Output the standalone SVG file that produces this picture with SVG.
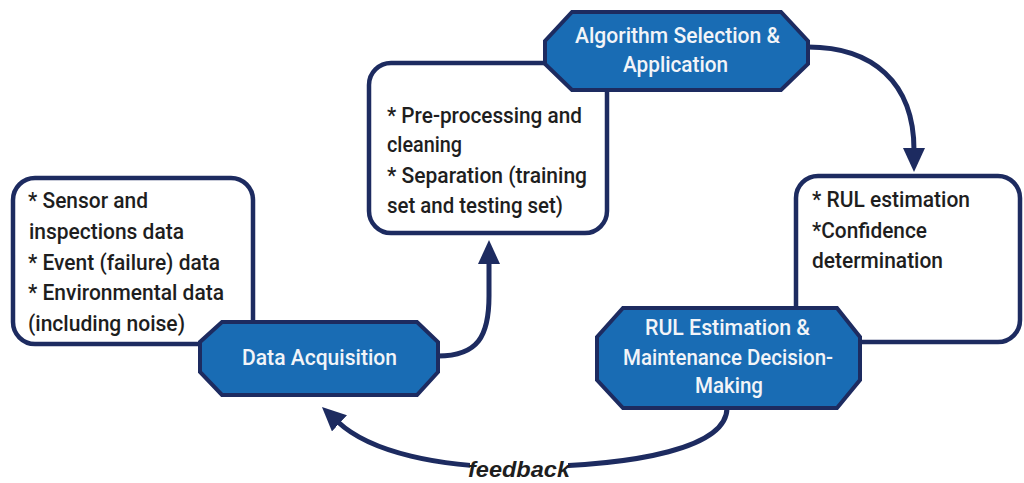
<svg xmlns="http://www.w3.org/2000/svg" width="1024" height="483" viewBox="0 0 1024 483">
  <defs>
    <marker id="arrow" viewBox="0 0 24 22" refX="2" refY="11" markerWidth="24" markerHeight="22" markerUnits="userSpaceOnUse" orient="auto">
      <path d="M0,0 L24,11 L0,22 Z" fill="#1d2b60"/>
    </marker>
    <style>
      .box { fill: #ffffff; stroke: #1d2b60; stroke-width: 4.5; }
      .hex { fill: #196cb4; stroke: #1d2b60; stroke-width: 4; stroke-linejoin: miter; }
      .link { fill: none; stroke: #1d2b60; stroke-width: 5; }
      .note { font-family: Roboto, "Liberation Sans", sans-serif; font-weight: 500; font-size: 22px; fill: #1e1e1e; }
      .title { font-family: Roboto, "Liberation Sans", sans-serif; font-weight: 500; font-size: 22px; fill: #f2f4f8; }
      .label { font-family: "Liberation Sans", Arial, sans-serif; font-weight: bold; font-style: italic; font-size: 22px; fill: #1e1e1e; }
    </style>
  </defs>

  <!-- detail boxes (drawn first so the stage shapes overlap their corners) -->
  <g id="acquisition-notes">
    <rect class="box" x="13" y="178" width="240" height="166" rx="22"/>
    <text class="note" x="28" y="208" textLength="120" lengthAdjust="spacingAndGlyphs">* Sensor and</text>
    <text class="note" x="29" y="239" textLength="155" lengthAdjust="spacingAndGlyphs">inspections data</text>
    <text class="note" x="28" y="270" textLength="192" lengthAdjust="spacingAndGlyphs">* Event (failure) data</text>
    <text class="note" x="28" y="300" textLength="196" lengthAdjust="spacingAndGlyphs">* Environmental data</text>
    <text class="note" x="28" y="331" textLength="157" lengthAdjust="spacingAndGlyphs">(including noise)</text>
  </g>

  <g id="preprocessing-notes">
    <rect class="box" x="369" y="63" width="238" height="170" rx="22"/>
    <text class="note" x="387" y="123" textLength="195" lengthAdjust="spacingAndGlyphs">* Pre-processing and</text>
    <text class="note" x="387" y="152" textLength="75" lengthAdjust="spacingAndGlyphs">cleaning</text>
    <text class="note" x="387" y="183" textLength="200" lengthAdjust="spacingAndGlyphs">* Separation (training</text>
    <text class="note" x="387" y="213" textLength="176" lengthAdjust="spacingAndGlyphs">set and testing set)</text>
  </g>

  <g id="estimation-notes">
    <rect class="box" x="796" y="176" width="224" height="166" rx="22"/>
    <text class="note" x="812" y="207" textLength="158" lengthAdjust="spacingAndGlyphs">* RUL estimation</text>
    <text class="note" x="812" y="238" textLength="115" lengthAdjust="spacingAndGlyphs">*Confidence</text>
    <text class="note" x="812" y="268" textLength="131" lengthAdjust="spacingAndGlyphs">determination</text>
  </g>

  <!-- connectors between stages -->
  <g id="connectors">
    <path class="link" d="M438,356 C478,356 489,336 489,296 L489,262" marker-end="url(#arrow)"/>
    <path class="link" d="M808,47 C872,47 914,82 914,150" marker-end="url(#arrow)"/>
    <path class="link" d="M727,408 C727,447 640,466 520,467 C440,468 370,452 338,422" marker-end="url(#arrow)"/>
    <rect x="470" y="455" width="98" height="26" fill="#ffffff"/>
    <text class="label" x="468" y="477" textLength="102" lengthAdjust="spacingAndGlyphs">feedback</text>
  </g>

  <!-- stage shapes -->
  <g id="algorithm-selection">
    <polygon class="hex" points="572,12 781,12 808,41 808,64 781,90 572,90 545,64 545,41"/>
    <text class="title" x="575" y="43" textLength="205" lengthAdjust="spacingAndGlyphs">Algorithm Selection &amp;</text>
    <text class="title" x="623" y="72" textLength="105" lengthAdjust="spacingAndGlyphs">Application</text>
  </g>

  <g id="data-acquisition">
    <polygon class="hex" points="222,322 417,322 438,342 438,372 417,395 222,395 200,372 200,342"/>
    <text class="title" x="242" y="365" textLength="155" lengthAdjust="spacingAndGlyphs">Data Acquisition</text>
  </g>

  <g id="rul-estimation">
    <polygon class="hex" points="623,308 837,308 860,337 860,380 837,408 623,408 597,380 597,337"/>
    <text class="title" x="645" y="335" textLength="165" lengthAdjust="spacingAndGlyphs">RUL Estimation &amp;</text>
    <text class="title" x="623" y="365" textLength="210" lengthAdjust="spacingAndGlyphs">Maintenance Decision-</text>
    <text class="title" x="695" y="393" textLength="68" lengthAdjust="spacingAndGlyphs">Making</text>
  </g>
</svg>
